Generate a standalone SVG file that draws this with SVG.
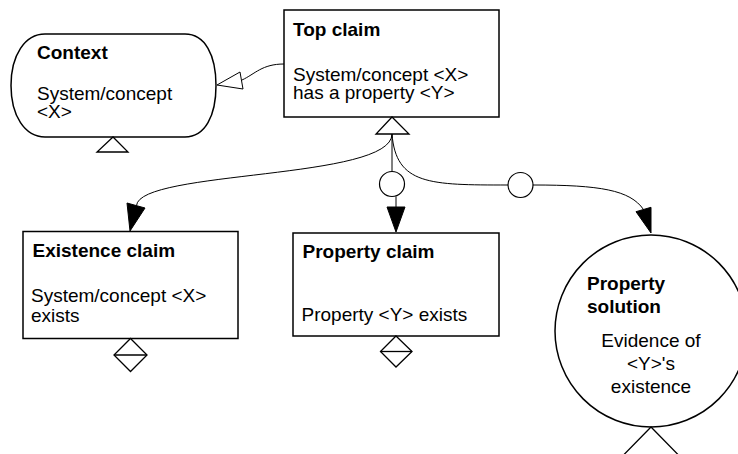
<svg xmlns="http://www.w3.org/2000/svg" width="738" height="454" viewBox="0 0 738 454">
  <style>
    .shape { fill: #ffffff; stroke: #000000; stroke-width: 1.5; }
    .deco { fill: #ffffff; stroke: #000000; stroke-width: 1.3; }
    .line { fill: none; stroke: #000000; stroke-width: 1; }
    .head { fill: #000000; stroke: #000000; stroke-width: 1; }
    .hollow { fill: #ffffff; stroke: #000000; stroke-width: 1; }
    .ring { fill: #ffffff; stroke: #000000; stroke-width: 1.2; }
    text { font-family: "Liberation Sans", Arial, sans-serif; font-size: 19px; fill: #000000; }
    .title { font-weight: bold; }
    .mid { text-anchor: middle; }
  </style>
  <rect width="738" height="454" fill="#ffffff"/>

  <g id="connectors">
    <path class="line" d="M284,64 C262,64 255,74 242,80"/>
    <polygon class="hollow" points="217,85 240,72 243,89"/>
    <path class="line" d="M392,134 C392,180 140,170 136.5,205.5"/>
    <polygon class="head" points="130,231 127,203 145,208"/>
    <line class="line" x1="392" y1="134" x2="392" y2="171.5"/>
    <circle class="ring" cx="392" cy="184" r="12.5"/>
    <line class="line" x1="396" y1="196.5" x2="396" y2="208"/>
    <polygon class="head" points="396,232 387,207 405,207"/>
    <path class="line" d="M392,134 C396,185 430,185 508,185"/>
    <circle class="ring" cx="520.5" cy="185" r="12.5"/>
    <path class="line" d="M533,185 C600,185 630,190 643.5,209.5"/>
    <polygon class="head" points="651,233 636,211.7 651,207.3"/>
  </g>

  <g id="context">
    <path class="shape" d="M45,34 H185 C205,34 216,55 216,85.5 C216,116 205,137 185,137 H45 C25,137 11,116 11,85.5 C11,55 25,34 45,34 Z"/>
    <polygon class="deco" points="113,137 97,152 128,152"/>
    <text class="title" x="37" y="59">Context</text>
    <text x="37" y="100">System/concept</text>
    <text x="37" y="117.5">&lt;X&gt;</text>
  </g>

  <g id="top-claim">
    <rect class="shape" x="284" y="10" width="215" height="107"/>
    <polygon class="deco" points="392,117 376,134 409,134"/>
    <text class="title" x="293" y="35.5">Top claim</text>
    <text x="293" y="81">System/concept &lt;X&gt;</text>
    <text x="293" y="99.3">has a property &lt;Y&gt;</text>
  </g>

  <g id="existence-claim">
    <rect class="shape" x="23" y="231.5" width="215" height="107"/>
    <polygon class="deco" points="130.5,338.5 147,355 130.5,371.5 114,355"/>
    <line class="deco" x1="114" y1="355" x2="147" y2="355"/>
    <text class="title" x="32.5" y="256.7">Existence claim</text>
    <text x="31" y="301.5">System/concept &lt;X&gt;</text>
    <text x="31" y="321.5">exists</text>
  </g>

  <g id="property-claim">
    <rect class="shape" x="293" y="233" width="206" height="103"/>
    <polygon class="deco" points="396,336 412,351.5 396,367 380.5,351.5"/>
    <line class="deco" x1="380.5" y1="351.5" x2="412" y2="351.5"/>
    <text class="title" x="302.5" y="258.3">Property claim</text>
    <text x="301.5" y="320.5">Property &lt;Y&gt; exists</text>
  </g>

  <g id="property-solution">
    <circle class="shape" cx="651" cy="331" r="96"/>
    <polygon class="deco" points="651,427 603,476 699,476"/>
    <text class="title" x="587" y="290">Property</text>
    <text class="title" x="587" y="312.5">solution</text>
    <text class="mid" x="651" y="346.5">Evidence of</text>
    <text class="mid" x="651" y="370">&lt;Y&gt;'s</text>
    <text class="mid" x="651" y="393">existence</text>
  </g>
</svg>
